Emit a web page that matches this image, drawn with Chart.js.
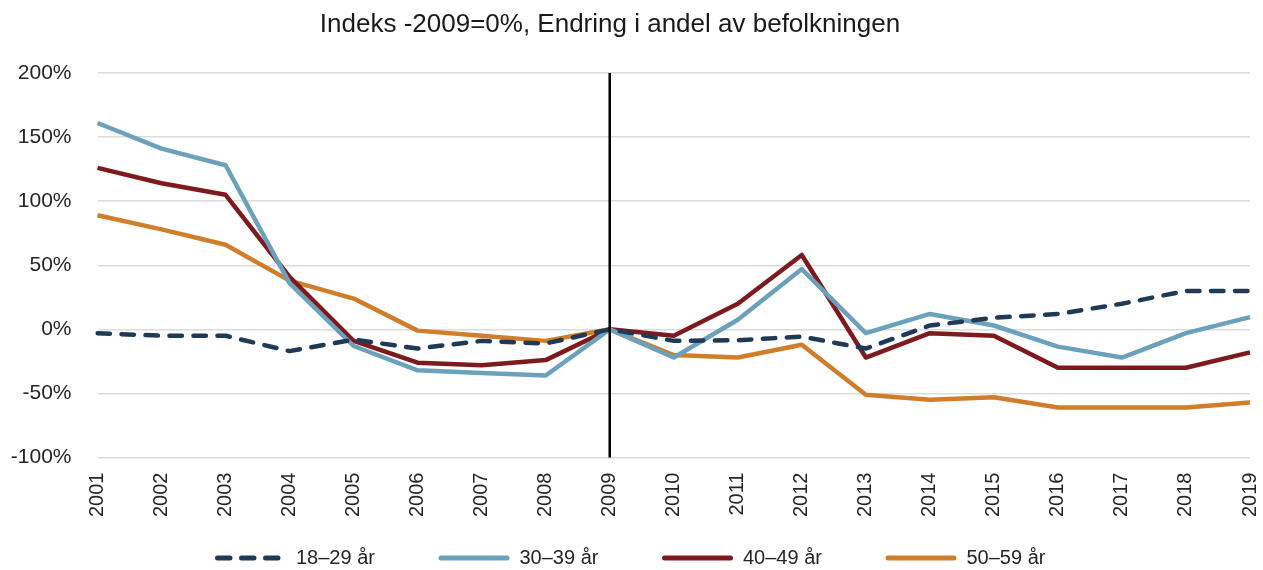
<!DOCTYPE html>
<html>
<head>
<meta charset="utf-8">
<script src="https://cdn.jsdelivr.net/npm/chart.js@4/dist/chart.umd.min.js"></script>
<style>
  html, body { margin: 0; padding: 0; background: #ffffff; overflow: hidden; }
  #wrap { width: 1263px; height: 570px; position: relative; }
</style>
</head>
<body>
<div id="wrap"><canvas id="c" width="1263" height="570"></canvas></div>
<script>
const titleText = 'Indeks -2009=0%, Endring i andel av befolkningen';
const years = ['2001','2002','2003','2004','2005','2006','2007','2008','2009','2010','2011','2012','2013','2014','2015','2016','2017','2018','2019'];
const seriesNames = ['18–29 år', '30–39 år', '40–49 år', '50–59 år'];
const age18_29 = [-3, -5, -5, -17, -8, -15, -9, -11, 0, -9, -8.5, -5.7, -15, 3, 9, 12, 20, 30, 30];
const age30_39 = [161, 141, 128, 36, -13, -32, -34, -36, 0, -22, 7.5, 47, -3, 12, 3, -13.5, -22, -3, 9.5];
const age40_49 = [126, 114, 105, 41, -9, -26, -28, -24, 0, -5, 20, 58, -22, -3, -5, -30, -30, -30, -18];
const age50_59 = [89, 78, 66, 38, 24, -1, -5, -9, 0, -20, -22, -12, -51, -55, -53, -61, -61, -61, -57];
const yTicks = [-100, -50, 0, 50, 100, 150, 200];
const markerYear = '2009';

const FONT = '"Liberation Sans", Arial, Helvetica, sans-serif';
const colors = ['#1F3A56', '#6BA1BA', '#7E1A1E', '#D07E2A'];
const dashes = [[12.5, 11.5], [], [], []];

const titlePlugin = {
  id: 'customTitle',
  afterDraw(chart) {
    const ctx = chart.ctx;
    ctx.save();
    ctx.font = '26px ' + FONT;
    ctx.fillStyle = '#1a1a1a';
    ctx.textAlign = 'center';
    ctx.textBaseline = 'middle';
    ctx.fillText(titleText, 610, 25);
    ctx.restore();
  }
};

const legendPlugin = {
  id: 'customLegend',
  afterDraw(chart) {
    const ctx = chart.ctx;
    ctx.save();
    const y = 558;
    chart.data.datasets.forEach((ds, i) => {
      const x0 = 215 + i * 223.5;
      ctx.beginPath();
      ctx.strokeStyle = ds.borderColor;
      ctx.lineWidth = 5;
      ctx.lineCap = 'round';
      ctx.setLineDash(ds.borderDash || []);
      ctx.moveTo(x0 + 2.5, y);
      ctx.lineTo(x0 + (ds.borderDash && ds.borderDash.length ? 64 : 68.5), y);
      ctx.stroke();
      ctx.setLineDash([]);
      ctx.font = '20px ' + FONT;
      ctx.fillStyle = '#262626';
      ctx.textAlign = 'left';
      ctx.textBaseline = 'middle';
      ctx.fillText(ds.label, x0 + 81, y);
    });
    ctx.restore();
  }
};

const vlinePlugin = {
  id: 'vline',
  afterDatasetsDraw(chart) {
    const x = chart.scales.x.getPixelForValue(years.indexOf(markerYear));
    const a = chart.chartArea;
    const ctx = chart.ctx;
    ctx.save();
    ctx.strokeStyle = '#000000';
    ctx.lineWidth = 2.5;
    ctx.beginPath();
    ctx.moveTo(x, a.top);
    ctx.lineTo(x, a.bottom);
    ctx.stroke();
    ctx.restore();
  }
};

const dataArrays = [age18_29, age30_39, age40_49, age50_59];

const datasets = dataArrays.map((d, i) => ({
  label: seriesNames[i],
  data: d,
  borderColor: colors[i],
  backgroundColor: colors[i],
  borderWidth: 4.5,
  borderDash: dashes[i],
  borderCapStyle: dashes[i].length ? 'round' : 'butt',
  borderJoinStyle: 'round',
  pointRadius: 0,
  pointHoverRadius: 0,
  tension: 0,
  fill: false
}));

new Chart(document.getElementById('c'), {
  type: 'line',
  data: { labels: years, datasets },
  plugins: [titlePlugin, vlinePlugin, legendPlugin],
  options: {
    responsive: false,
    animation: false,
    devicePixelRatio: 1,
    layout: { padding: { top: 73, right: 13, left: 0, bottom: 38 } },
    plugins: {
      title: { display: false },
      tooltip: { enabled: false },
      legend: { display: false }
    },
    scales: {
      x: {
        grid: { display: false, drawTicks: false },
        border: { display: false },
        ticks: {
          color: '#262626',
          font: { family: FONT, size: 20 },
          maxRotation: 90,
          minRotation: 90,
          padding: 15,
          autoSkip: false
        },
        afterFit(scale) { scale.paddingLeft = 0; scale.paddingRight = 0; }
      },
      y: {
        min: -100,
        max: 200,
        afterBuildTicks(axis) { axis.ticks = yTicks.map(v => ({ value: v })); },
        afterFit(scale) { scale.width = 97.5; scale.paddingTop = 0; scale.paddingBottom = 0; },
        grid: { color: '#dcdcdc', lineWidth: 1.5, drawTicks: false },
        border: { display: false },
        ticks: {
          color: '#262626',
          font: { family: FONT, size: 21 },
          padding: 26,
          callback: v => v + '%'
        }
      }
    }
  }
});
</script>
</body>
</html>
